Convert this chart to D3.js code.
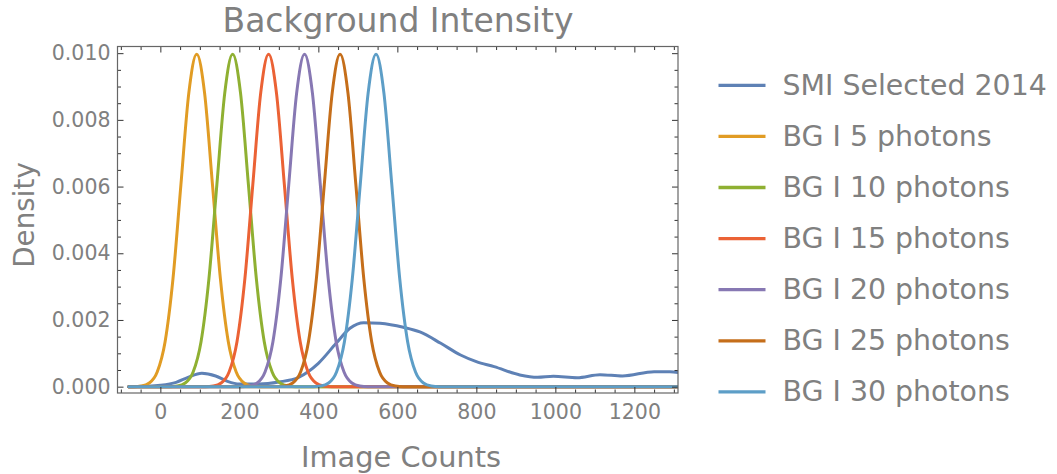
<!DOCTYPE html>
<html>
<head>
<meta charset="utf-8">
<script src="https://cdn.jsdelivr.net/npm/d3@7"></script>
<style>
html,body{margin:0;padding:0;background:#fff;}
svg{display:block;}
text{font-family:"DejaVu Sans",sans-serif;fill:#808080;}
</style>
</head>
<body>
<svg id="chart" width="1057" height="474"></svg>
<script>
// ---- data ----
const seriesNames = ["SMI Selected 2014","BG I 5 photons","BG I 10 photons","BG I 15 photons","BG I 20 photons","BG I 25 photons","BG I 30 photons"];
const seriesColors = ["#5E81B5","#E19C24","#8FB032","#EB6235","#8778B3","#C56E1A","#5D9EC7"];

const smi2014 = [[-80,0],[-40,0.00001],[0,0.00004],[40,0.00013],[70,0.00028],[105,0.0004],[140,0.00032],[170,0.00016],[200,0.00008],[250,0.00008],[300,0.00014],[350,0.00028],[400,0.0007],[445,0.0013],[480,0.00175],[515,0.00192],[556,0.0019],[615,0.00178],[657,0.00164],[710,0.0013],[760,0.00095],[800,0.00075],[845,0.0006],[910,0.00035],[955,0.00028],[995,0.00031],[1055,0.00027],[1113,0.00036],[1170,0.00032],[1250,0.00045],[1290,0.00045],[1320,0.0004]];
const bg5 = [[-80,0],[-68,0],[-48,0.00002],[-28,0.00011],[-8,0.00044],[12,0.00135],[32,0.00324],[52,0.00605],[72,0.0088],[92,0.00997],[112,0.0088],[132,0.00605],[152,0.00324],[172,0.00135],[192,0.00044],[212,0.00011],[232,0.00002],[252,0],[1320,0]];
const bg10 = [[-80,0],[23,0],[43,0.00002],[63,0.00011],[83,0.00044],[103,0.00135],[123,0.00324],[143,0.00605],[163,0.0088],[183,0.00997],[203,0.0088],[223,0.00605],[243,0.00324],[263,0.00135],[283,0.00044],[303,0.00011],[323,0.00002],[343,0],[1320,0]];
const bg15 = [[-80,0],[114,0],[134,0.00002],[154,0.00011],[174,0.00044],[194,0.00135],[214,0.00324],[234,0.00605],[254,0.0088],[274,0.00997],[294,0.0088],[314,0.00605],[334,0.00324],[354,0.00135],[374,0.00044],[394,0.00011],[414,0.00002],[434,0],[1320,0]];
const bg20 = [[-80,0],[205,0],[225,0.00002],[245,0.00011],[265,0.00044],[285,0.00135],[305,0.00324],[325,0.00605],[345,0.0088],[365,0.00997],[385,0.0088],[405,0.00605],[425,0.00324],[445,0.00135],[465,0.00044],[485,0.00011],[505,0.00002],[525,0],[1320,0]];
const bg25 = [[-80,0],[295,0],[315,0.00002],[335,0.00011],[355,0.00044],[375,0.00135],[395,0.00324],[415,0.00605],[435,0.0088],[455,0.00997],[475,0.0088],[495,0.00605],[515,0.00324],[535,0.00135],[555,0.00044],[575,0.00011],[595,0.00002],[615,0],[1320,0]];
const bg30 = [[-80,0],[386,0],[406,0.00002],[426,0.00011],[446,0.00044],[466,0.00135],[486,0.00324],[506,0.00605],[526,0.0088],[546,0.00997],[566,0.0088],[586,0.00605],[606,0.00324],[626,0.00135],[646,0.00044],[666,0.00011],[686,0.00002],[706,0],[1320,0]];

const xMajorTicks = [0,200,400,600,800,1000,1200];
const yMajorTicks = [0,0.002,0.004,0.006,0.008,0.010];
const yTickLabels = ["0.000","0.002","0.004","0.006","0.008","0.010"];

const titleText = "Background Intensity";
const xLabelText = "Image Counts";
const yLabelText = "Density";

// ---- layout ----
const L = 117.5, R = 678, T = 46.5, B = 393;
const svg = d3.select("#chart");
const x = d3.scaleLinear().domain([-108.5, 1310.5]).range([L, R]);
const y = d3.scaleLinear().domain([-0.00019, 0.0102]).range([B, T]);

const allSeries = [smi2014, bg5, bg10, bg15, bg20, bg25, bg30];

svg.append("clipPath").attr("id","clip").append("rect")
  .attr("x", L).attr("y", T).attr("width", R - L).attr("height", B - T);

const line = d3.line().x(d => x(d[0])).y(d => y(d[1])).curve(d3.curveMonotoneX);
const gLines = svg.append("g").attr("clip-path","url(#clip)");
allSeries.forEach((s, i) => {
  gLines.append("path").datum(s).attr("d", line)
    .attr("fill","none").attr("stroke", seriesColors[i])
    .attr("stroke-width", 3).attr("stroke-linejoin","round").attr("stroke-linecap","round");
});

// ---- frame & ticks ----
const xMinor = d3.range(-100, 1301, 50).filter(v => !xMajorTicks.includes(v));
const yMinor = d3.range(0, 21).map(i => i * 0.0005).filter(v => !yMajorTicks.some(m => Math.abs(m - v) < 1e-9));

function addAxis(axis, pos, major, minor, fmtLabels, pad) {
  const gMaj = svg.append("g").attr("transform", pos).call(axis.tickValues(major).tickSize(-6).tickSizeOuter(0).tickPadding(pad)
    .tickFormat(fmtLabels ? (d, i) => fmtLabels[i] : () => ""));
  const gMin = svg.append("g").attr("transform", pos).call(axis.tickValues(minor).tickSize(-3.5).tickSizeOuter(0).tickFormat(() => ""));
  [gMaj, gMin].forEach(g => {
    g.select(".domain").remove();
    g.selectAll(".tick line").attr("stroke","#333").attr("stroke-width",1);
  });
  gMaj.selectAll(".tick text").style("font-family","DejaVu Sans").style("font-size","20.5px").attr("fill","#808080");
  return gMaj;
}
addAxis(d3.axisBottom(x), `translate(0,${B})`, xMajorTicks, xMinor, xMajorTicks.map(String), 11);
addAxis(d3.axisTop(x), `translate(0,${T})`, xMajorTicks, xMinor, null, 8);
addAxis(d3.axisLeft(y), `translate(${L},0)`, yMajorTicks, yMinor, yTickLabels, 7);
addAxis(d3.axisRight(y), `translate(${R},0)`, yMajorTicks, yMinor, null, 8);

svg.append("rect").attr("x", L).attr("y", T).attr("width", R - L).attr("height", B - T)
  .attr("fill","none").attr("stroke","#666").attr("stroke-width",1.2);

// ---- titles ----
svg.append("text").attr("x", 398).attr("y", 32).attr("text-anchor","middle")
  .style("font-size","33px").text(titleText);
svg.append("text").attr("x", 401).attr("y", 466.5).attr("text-anchor","middle")
  .style("font-size","28.8px").text(xLabelText);
svg.append("text").attr("transform","translate(33.5,215) rotate(-90)").attr("text-anchor","middle")
  .style("font-size","27.8px").text(yLabelText);

// ---- legend ----
const lg = svg.append("g");
seriesNames.forEach((n, i) => {
  const yy = 85.3 + i * 51.1;
  lg.append("line").attr("x1", 718.5).attr("x2", 765.5).attr("y1", yy).attr("y2", yy)
    .attr("stroke", seriesColors[i]).attr("stroke-width", 3.3);
  lg.append("text").attr("x", 782.5).attr("y", yy + 9.5).style("font-size","28.4px").text(n);
});
</script>
</body>
</html>
